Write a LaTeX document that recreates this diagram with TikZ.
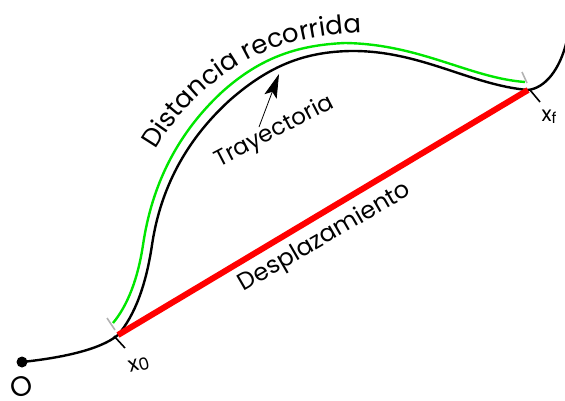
\documentclass[tikz,border=0pt]{standalone}
\usepackage{fontspec}
\setmainfont{Poppins}
\usetikzlibrary{arrows.meta,decorations.text}
\begin{document}
\begin{tikzpicture}[x=1pt,y=-1pt,
  curve/.style={line width=2.4pt},
  green/.style={line width=2.4pt,draw={rgb,255:red,0;green,230;blue,0}},
  lbl/.style={font=\fontsize{23}{26}\selectfont,inner sep=0pt},
  tick/.style={line width=1.6pt}]
\useasboundingbox (0,0) rectangle (565,400);
\coordinate (O) at (22,362);
\coordinate (x0) at (118,335);
\coordinate (xf) at (528,90);
% trajectory
\draw[curve] (O) .. controls (60,358) and (100,350) .. (x0)
  .. controls (135,315) and (146,285) .. (152,245)
  .. controls (158,205) and (175,150) .. (230,100)
  .. controls (270,65) and (305,52) .. (350,51)
  .. controls (420,50) and (470,85) .. (xf)
  .. controls (545,88) and (560,70) .. (567,40);
% distance travelled
\coordinate (gs) at (113,323);
\coordinate (ge) at (525,82);
\draw[green] (gs) .. controls (128,305) and (138,278) .. (143,245)
  .. controls (149,205) and (165,145) .. (222,92)
  .. controls (262,56) and (300,45) .. (345,43)
  .. controls (420,44) and (470,78) .. (ge);
% displacement
\draw[line width=6pt,red] (x0) -- (xf);
% ticks
\draw[tick,gray!60] (107,318) -- (115,330);
\draw[tick] (114,336) -- (125,348);
\draw[tick,gray!60] (522,72) -- (527,83);
\draw[tick] (530,90) -- (540,102);
\fill (O) circle[radius=5.5pt];
% labels
\node[lbl,font=\fontsize{28}{30}\selectfont,rotate=20] (lO) at (21,387) {O};
\node[lbl,font=\fontsize{21}{24}\selectfont,rotate=15] (lx0) at (139,365) {x\raisebox{-2pt}{\fontsize{17}{18}\selectfont 0}};
\node[lbl,font=\fontsize{21}{24}\selectfont] (lxf) at (549,117) {x\raisebox{-2pt}{\fontsize{15}{16}\selectfont f}};
\node[lbl,font=\fontsize{24}{26}\selectfont,rotate=30.1,anchor=base] (ldes) at (328,243) {Desplazamiento};
\node[lbl,rotate=27.5,anchor=base] (ltray) at (277,137) {Trayectoria};
\coordinate (atail) at (259,127);
\coordinate (ahead) at (279,74);
\draw[line width=0.8pt,-{Stealth[length=24pt,width=13pt,inset=5pt]}] (atail) -- (ahead);
\path[decorate,decoration={text along path,text align=left,
  text={|\fontsize{26}{28}\selectfont|Distancia recorrida}}]
  (156,150) .. controls (180,110) and (205,85) .. (245,62)
  .. controls (280,42) and (320,34) .. (365,33)
  .. controls (380,33) and (395,34) .. (410,35);
\end{tikzpicture}
\end{document}
